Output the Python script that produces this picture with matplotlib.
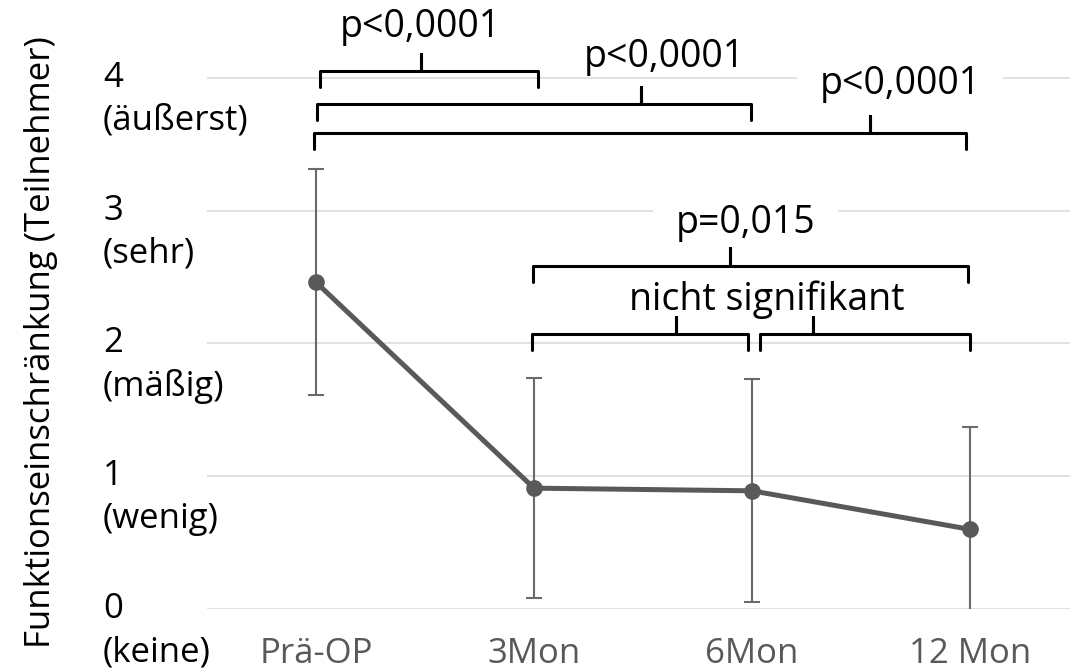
import matplotlib
matplotlib.use('Agg')
import matplotlib.pyplot as plt
import matplotlib.transforms as mtransforms

plt.rcParams['font.family'] = ['Open Sans', 'DejaVu Sans']

# Messzeitpunkte und Mittelwerte mit Standardabweichung
zeitpunkte = ['Prä-OP', '3Mon', '6Mon', '12 Mon']
mittelwerte = [2.46, 0.91, 0.89, 0.60]
std_abw = [0.85, 0.83, 0.84, 0.77]

y_werte = [0, 1, 2, 3, 4]
y_stufen = ['(keine)', '(wenig)', '(mäßig)', '(sehr)', '(äußerst)']

# Signifikanzklammern: (von, bis, Höhe, Spitze x, Beschriftung, Text x, Text y, Hintergrund)
klammern = [
    (0.02, 1.02, 4.05, 0.48, 'p<0,0001', 0.48, 4.38, False),
    (0.005, 1.995, 3.80, 1.49, 'p<0,0001', 1.60, 4.16, False),
    (-0.01, 2.98, 3.585, 2.54, 'p<0,0001', 2.68, 3.95, True),
    (0.995, 2.99, 2.585, 1.90, 'p=0,015', 1.97, 2.91, True),
    (0.99, 1.98, 2.07, 1.65, None, 0, 0, False),
    (2.035, 3.0, 2.07, 2.28, None, 0, 0, False),
]
ns_text = ('nicht signifikant', 2.07, 2.33)

fig = plt.figure(figsize=(10.7, 6.71), dpi=100)
ax = fig.add_axes([0.1935, 0.0924, 0.8065, 0.9076])

x = list(range(len(zeitpunkte)))
ax.errorbar(x, mittelwerte, yerr=std_abw, fmt='none', ecolor='#6a6a6a',
            elinewidth=1.5, capsize=6, capthick=1.5, zorder=4)
ax.plot(x, mittelwerte, color='#595959', lw=3.6, marker='o', markersize=11,
        solid_capstyle='round', zorder=5)

ax.set_xlim(-0.5, 3.459)
ax.set_ylim(0, 4.586)
ax.set_yticks(y_werte)
ax.yaxis.grid(True, color='#d9d9d9', lw=1.1, zorder=0)
ax.set_axisbelow(True)
ax.tick_params(axis='y', length=0, labelleft=False)
ax.set_xticks(x)
ax.set_xticklabels(zeitpunkte, fontsize=25, color='#595959')
ax.tick_params(axis='x', length=0, pad=20)
for s in ax.spines.values():
    s.set_visible(False)

# Zweizeilige y-Beschriftungen: Zahl auf Gitterlinie, Stufe darunter
trans = ax.get_yaxis_transform()
unter = mtransforms.offset_copy(trans, fig=fig, x=0, y=-31, units='points')
for wert, stufe in zip(y_werte, y_stufen):
    ax.text(-0.1205, wert, str(wert), transform=trans, ha='left', va='center',
            fontsize=25, clip_on=False)
    ax.text(-0.1205, wert, stufe, transform=unter, ha='left', va='center',
            fontsize=25, clip_on=False)

fig.text(0.038, 0.49, 'Funktionseinschränkung (Teilnehmer)', rotation=90,
         ha='center', va='center', fontsize=25)

# Klammern zeichnen
for x0, x1, yh, xm, label, tx, ty, box in klammern:
    yb = yh - 0.12
    yt = yh + 0.13
    ax.plot([x0, x0, xm, xm, xm, x1, x1], [yb, yh, yh, yt, yh, yh, yb],
            color='black', lw=2.2, solid_joinstyle='round',
            solid_capstyle='round', zorder=4, clip_on=False)
    if label:
        kw = {}
        if box:
            kw['bbox'] = dict(boxstyle='square,pad=0.6', fc='white', ec='none')
        ax.text(tx, ty, label, ha='center', va='center', fontsize=27,
                zorder=3, **kw)

ax.text(ns_text[1], ns_text[2], ns_text[0], ha='center', va='center',
        fontsize=27, zorder=3)

fig.savefig('out.png', dpi=100)
